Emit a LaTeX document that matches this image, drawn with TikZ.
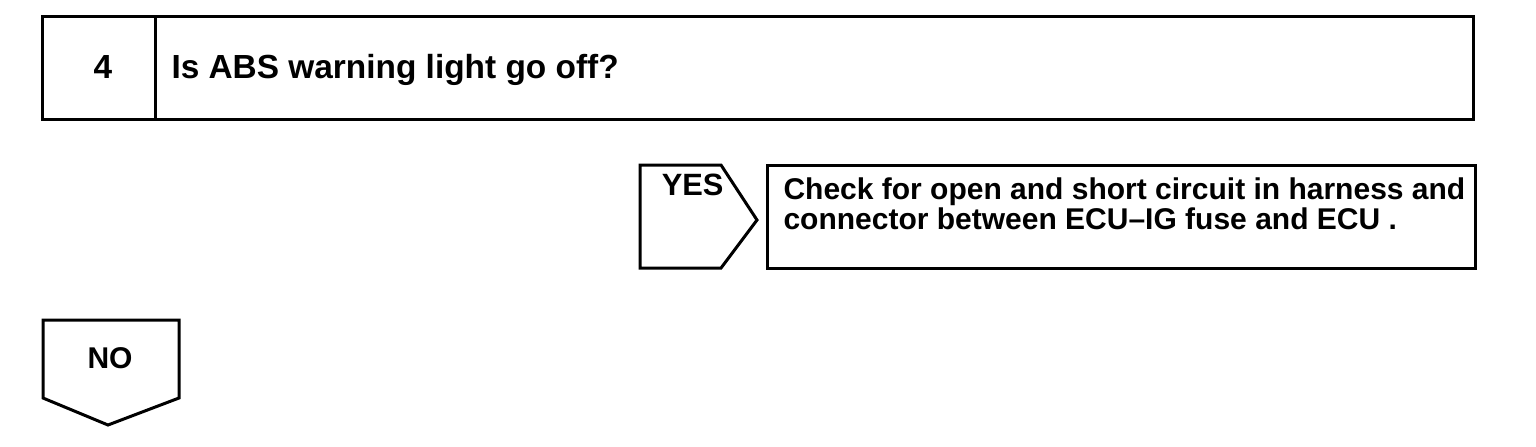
\documentclass[tikz,border=0pt]{standalone}
\usepackage{fontspec}
\setmainfont{Liberation Sans}
\usetikzlibrary{
	calc
}

\begin{document}
\begin{tikzpicture}[
	x=0.5pt, y=-0.5pt,
	line width=1.5pt,
	label/.style={inner sep=0, font=\bfseries\fontsize{15}{12}\selectfont},
	bigLabel/.style={label, font=\bfseries\fontsize{16.7}{16.7}\selectfont}
]
	\useasboundingbox (0,0) rectangle (1536,446);

	% question row
	\coordinate (qNW) at (42,16);
	\coordinate (qSE) at (1473,119);
	\draw (qNW) rectangle (qSE);
	\draw (155,16) -- (155,119);
	\node(num)[bigLabel, anchor=base] at (103,78) {4};
	\node(question)[bigLabel, anchor=base west] at (170,78) {Is ABS warning light go off?};

	% yes branch
	\draw (640,165) -- (721,165) -- (757,220) -- (721,268) -- (640,268) -- cycle;
	\node(yes)[label, font=\bfseries\fontsize{15.4}{15.4}\selectfont, anchor=base east] at (725,195) {YES};
	\draw (767,165) rectangle (1475,268);
	\node(action)[label, anchor=north west, align=left] at (782,176) {Check for open and short circuit in harness and\\connector between ECU--IG fuse and ECU .};

	% no branch
	\draw (43,320) -- (179,320) -- (179,398) -- (108,425) -- (43,398) -- cycle;
	\node(no)[label, anchor=base] at (110,368) {NO};
\end{tikzpicture}
\end{document}
